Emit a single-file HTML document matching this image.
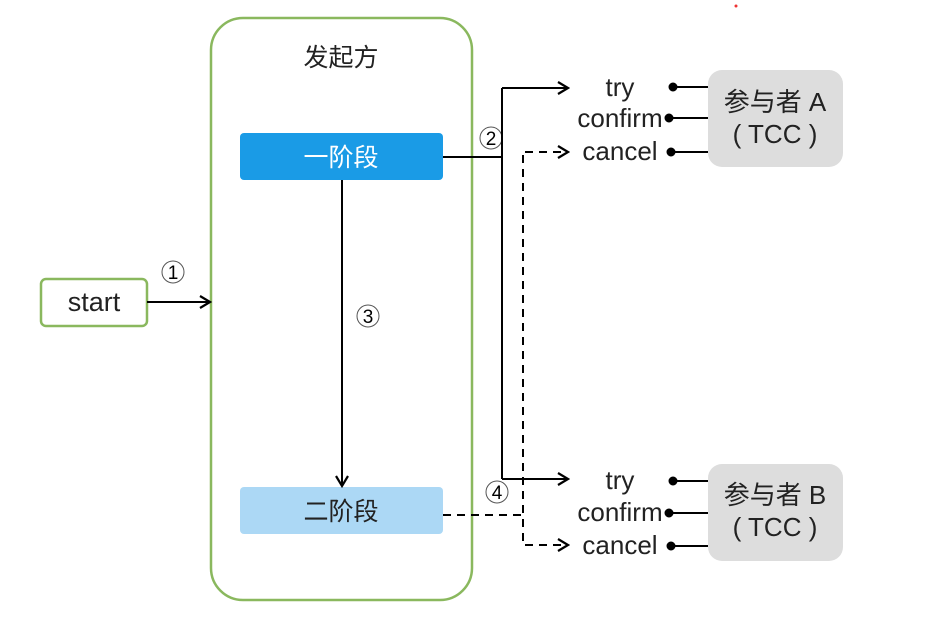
<!DOCTYPE html>
<html><head><meta charset="utf-8"><style>
body{margin:0;background:#fff;width:932px;height:618px;overflow:hidden}
</style></head><body>
<svg width="932" height="618" xmlns="http://www.w3.org/2000/svg" font-family="Liberation Sans, Noto Sans CJK SC, sans-serif">
<defs><marker id="a" markerWidth="14" markerHeight="14" refX="12" refY="7" orient="auto" markerUnits="userSpaceOnUse"><path d="M2,1 L12,7 L2,13" fill="none" stroke="#000" stroke-width="2.2"/></marker></defs>
<circle cx="736" cy="6" r="1.5" fill="#e33"/>
<rect x="211" y="18" width="261" height="582" rx="32" fill="none" stroke="#8ab85e" stroke-width="2.5"/>
<text x="341" y="66" font-size="25" text-anchor="middle" fill="#222">发起方</text>
<rect x="240" y="133" width="203" height="47" rx="4" fill="#1a9be6"/>
<text x="341" y="166" font-size="25" fill="#fff" text-anchor="middle">一阶段</text>
<rect x="240" y="487" width="203" height="47" rx="4" fill="#acd8f5"/>
<text x="341" y="520" font-size="25" fill="#222" text-anchor="middle">二阶段</text>
<rect x="41" y="279" width="106" height="47" rx="5" fill="#fff" stroke="#8ab85e" stroke-width="2.5"/>
<text x="94" y="311" font-size="27" text-anchor="middle" fill="#222">start</text>
<line x1="147" y1="302" x2="210" y2="302" stroke="#000" stroke-width="2" marker-end="url(#a)"/>
<line x1="342" y1="180" x2="342" y2="486" stroke="#000" stroke-width="2" marker-end="url(#a)"/>
<g text-anchor="middle">
<circle cx="173" cy="272" r="11" fill="none" stroke="#555"/><text x="173" y="279" font-size="19">1</text>
<circle cx="368" cy="316" r="11" fill="none" stroke="#555"/><text x="368" y="323" font-size="19">3</text>
<circle cx="491" cy="138" r="11" fill="none" stroke="#555"/><text x="491" y="145" font-size="19">2</text>
<circle cx="497" cy="492" r="11" fill="none" stroke="#555"/><text x="497" y="499" font-size="19">4</text>
</g>
<path d="M443,157 H502 M502,88 V479" stroke="#000" stroke-width="2" fill="none"/>
<line x1="502" y1="88" x2="568" y2="88" stroke="#000" stroke-width="2" marker-end="url(#a)"/>
<line x1="502" y1="479" x2="568" y2="479" stroke="#000" stroke-width="2" marker-end="url(#a)"/>
<path d="M443,515 H523 M523,155 V545" stroke="#000" stroke-width="2" stroke-dasharray="8,6" fill="none"/>
<line x1="525" y1="152" x2="568" y2="152" stroke="#000" stroke-width="2" stroke-dasharray="8,6" marker-end="url(#a)"/>
<line x1="525" y1="545" x2="568" y2="545" stroke="#000" stroke-width="2" stroke-dasharray="8,6" marker-end="url(#a)"/>
<g font-size="26" fill="#222" text-anchor="middle">
<text x="620" y="96">try</text><text x="620" y="127">confirm</text><text x="620" y="160">cancel</text>
<text x="620" y="489">try</text><text x="620" y="521">confirm</text><text x="620" y="554">cancel</text>
</g>
<g stroke="#000" stroke-width="2" fill="#000">
<line x1="673" y1="87" x2="708" y2="87"/><circle cx="673" cy="87" r="3.5"/>
<line x1="668" y1="118" x2="708" y2="118"/><circle cx="669" cy="118" r="3.5"/>
<line x1="673" y1="152" x2="708" y2="152"/><circle cx="671" cy="152" r="3.5"/>
<line x1="673" y1="481" x2="708" y2="481"/><circle cx="673" cy="481" r="3.5"/>
<line x1="668" y1="513" x2="708" y2="513"/><circle cx="669" cy="513" r="3.5"/>
<line x1="673" y1="546" x2="708" y2="546"/><circle cx="671" cy="546" r="3.5"/>
</g>
<rect x="708" y="70" width="135" height="97" rx="14" fill="#ddd"/>
<rect x="708" y="464" width="135" height="97" rx="14" fill="#ddd"/>
<g font-size="26" fill="#222" text-anchor="middle">
<text x="775" y="111">参与者 A</text><text x="775" y="143" xml:space="preserve">( TCC )</text>
<text x="775" y="504">参与者 B</text><text x="775" y="536" xml:space="preserve">( TCC )</text>
</g>
</svg>
</body></html>
